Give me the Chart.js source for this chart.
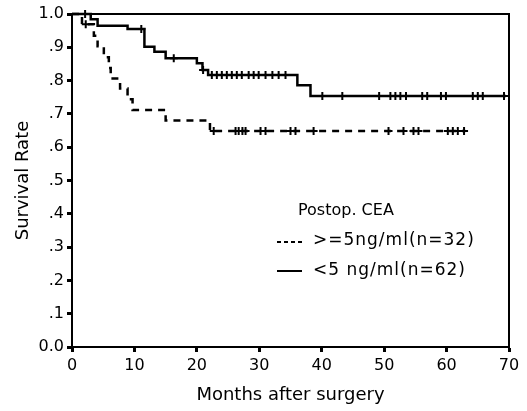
<!DOCTYPE html>
<html>
<head>
<meta charset="utf-8">
<script src="https://cdn.jsdelivr.net/npm/chart.js@4/dist/chart.umd.min.js"></script>
<style>
  html, body { margin: 0; padding: 0; background: #fff; }
  #wrap { width: 527px; height: 411px; }
</style>
</head>
<body>
<div id="wrap"><canvas id="survivalChart"></canvas></div>
<script>
// Kaplan-Meier curves: postoperative CEA groups
const xTickLabels = ['0', '10', '20', '30', '40', '50', '60', '70'];
const yTickLabels = ['0.0', '.1', '.2', '.3', '.4', '.5', '.6', '.7', '.8', '.9', '1.0'];

// >=5 ng/ml (n=32), dashed
const highTimes = [0, 1.6, 3.5, 4.1, 5.1, 5.9, 6.2, 7.7, 8.9, 9.7, 15.0, 22.1, 63.0];
const highSurv = [1.0, 0.969, 0.935, 0.903, 0.870, 0.838, 0.806, 0.776, 0.744, 0.712, 0.680, 0.649, 0.649];
const highCensored = [2.2, 22.7, 26.2, 26.7, 27.3, 27.8, 30.2, 31.0, 35.0, 35.8, 38.7,
    50.7, 53.1, 54.7, 55.5, 60.2, 61.0, 61.8, 62.8];

// <5 ng/ml (n=62), solid
const lowTimes = [0, 3.0, 4.1, 8.9, 11.6, 13.2, 15.0, 20.0, 20.9, 21.8, 36.1, 38.2, 69.5];
const lowSurv = [1.0, 0.984, 0.965, 0.955, 0.902, 0.887, 0.867, 0.852, 0.832, 0.817, 0.786, 0.754, 0.754];
const lowCensored = [2.1, 11.1, 16.3, 21.0, 22.4, 23.2, 24.0, 24.8, 25.6, 26.4, 27.2, 28.3, 29.1,
    29.9, 31.0, 32.1, 33.1, 34.2, 40.1, 43.3, 49.2, 51.0, 51.8, 52.6, 53.5, 56.1, 56.9,
    59.1, 59.9, 64.2, 65.0, 65.8, 69.2];

const legendTitle = 'Postop. CEA';
const legendHigh = '>=5ng/ml(n=32)';
const legendLow = '<5 ng/ml(n=62)';

// survival value of a step curve at time t
function survivalAt(times, surv, t) {
    let s = surv[0];
    for (let i = 0; i < times.length; i++) {
        if (times[i] <= t) s = surv[i];
    }
    return s;
}

function curvePoints(times, surv) {
    return times.map((t, i) => ({ x: t, y: surv[i] }));
}

function censorPoints(censored, times, surv) {
    return censored.map(t => ({ x: t, y: survivalAt(times, surv, t) }));
}

const FONT = 'DejaVu Sans';

// frame round the plot and the text legend
const framePlugin = {
    id: 'frameAndLegend',
    afterDraw(chart) {
        const { ctx, chartArea } = chart;
        ctx.save();
        ctx.strokeStyle = '#000';
        ctx.lineWidth = 2;
        ctx.strokeRect(chartArea.left, chartArea.top,
            chartArea.right - chartArea.left, chartArea.bottom - chartArea.top);

        ctx.fillStyle = '#000';
        ctx.textBaseline = 'middle';
        ctx.textAlign = 'left';
        ctx.font = '16px "' + FONT + '"';
        ctx.fillText(legendTitle, 298, 211);
        ctx.font = '17px "' + FONT + '"';
        ctx.letterSpacing = '1px';
        ctx.fillText(legendHigh, 313, 241);
        ctx.fillText(legendLow, 313, 271);
        ctx.letterSpacing = '0px';

        ctx.lineWidth = 2;
        ctx.setLineDash([4, 3]);
        ctx.beginPath();
        ctx.moveTo(277, 242);
        ctx.lineTo(302, 242);
        ctx.stroke();
        ctx.setLineDash([]);
        ctx.beginPath();
        ctx.moveTo(277, 271);
        ctx.lineTo(302, 271);
        ctx.stroke();
        ctx.restore();
    }
};

const ctx = document.getElementById('survivalChart').getContext('2d');
new Chart(ctx, {
    type: 'line',
    data: {
        datasets: [{
            label: legendHigh,
            data: curvePoints(highTimes, highSurv),
            stepped: 'before',
            borderColor: '#000',
            borderWidth: 2.5,
            borderDash: [7, 6],
            pointRadius: 0,
            fill: false,
            clip: 6
        }, {
            label: legendLow,
            data: curvePoints(lowTimes, lowSurv),
            stepped: 'before',
            borderColor: '#000',
            borderWidth: 2.5,
            pointRadius: 0,
            fill: false,
            clip: 6
        }, {
            label: 'censored high',
            type: 'scatter',
            data: censorPoints(highCensored, highTimes, highSurv),
            pointStyle: 'cross',
            pointRadius: 4,
            borderColor: '#000',
            borderWidth: 2,
            clip: 6
        }, {
            label: 'censored low',
            type: 'scatter',
            data: censorPoints(lowCensored, lowTimes, lowSurv),
            pointStyle: 'cross',
            pointRadius: 4,
            borderColor: '#000',
            borderWidth: 2,
            clip: 6
        }]
    },
    options: {
        responsive: true,
        maintainAspectRatio: false,
        animation: false,
        layout: {
            padding: { left: 0, right: 18, top: 14, bottom: 0 }
        },
        plugins: {
            legend: { display: false },
            tooltip: { enabled: false }
        },
        scales: {
            x: {
                type: 'linear',
                min: 0,
                max: 70,
                afterFit: (scale) => { scale.height = 64; },
                ticks: {
                    stepSize: 10,
                    color: '#000',
                    padding: 4,
                    maxRotation: 0,
                    font: { family: FONT, size: 16 },
                    callback: (value, index) => xTickLabels[index]
                },
                grid: {
                    drawOnChartArea: false,
                    tickLength: 5,
                    tickWidth: 3,
                    color: '#000'
                },
                border: { color: '#000', width: 2 },
                title: {
                    display: true,
                    text: 'Months after surgery',
                    color: '#000',
                    font: { family: FONT, size: 18 },
                    padding: { top: 0, bottom: 5 }
                }
            },
            y: {
                min: 0,
                max: 1,
                afterFit: (scale) => { scale.width = 72; },
                ticks: {
                    stepSize: 0.1,
                    color: '#000',
                    padding: 3,
                    font: { family: FONT, size: 16 },
                    callback: (value, index) => yTickLabels[index]
                },
                grid: {
                    drawOnChartArea: false,
                    tickLength: 5,
                    tickWidth: 3,
                    color: '#000'
                },
                border: { color: '#000', width: 2 },
                title: {
                    display: true,
                    text: 'Survival Rate',
                    color: '#000',
                    font: { family: FONT, size: 18 },
                    padding: { top: 13, bottom: 0 }
                }
            }
        }
    },
    plugins: [framePlugin]
});
</script>
</body>
</html>
